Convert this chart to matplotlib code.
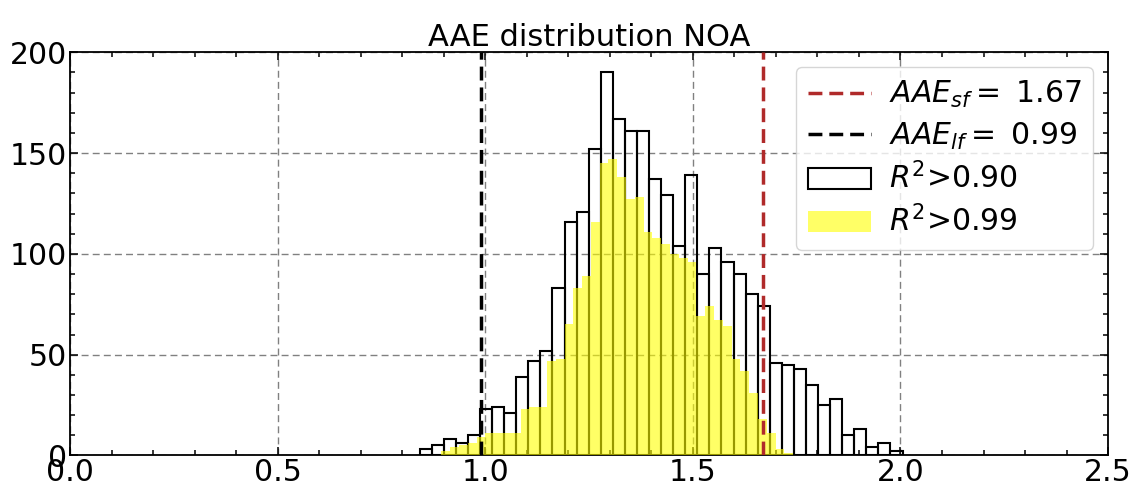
#!/usr/bin/env python3
"""AAE distribution histogram (NOA) - two R^2 cuts with reference AAE lines"""

import numpy as np
import matplotlib

matplotlib.use("Agg")
import matplotlib.pyplot as plt
from matplotlib.ticker import MultipleLocator

# histogram counts
# R^2 > 0.90: 40 bins between the min and max AAE
r90_range = (0.842, 2.005)
r90_counts = [3, 5, 8, 6, 10, 23, 24, 21, 39, 47,
              52, 83, 116, 121, 152, 190, 167, 161, 161, 137,
              129, 104, 139, 90, 103, 96, 90, 80, 74, 46,
              45, 43, 35, 25, 28, 10, 13, 4, 6, 2]

# R^2 > 0.99: 40 bins over its own (narrower) range
r99_range = (0.8946, 1.7414)
r99_counts = [2, 4, 5, 6, 9, 11, 11, 11, 11, 23,
              24, 24, 47, 48, 65, 83, 89, 116, 145, 147,
              138, 127, 128, 111, 108, 105, 100, 98, 96, 69,
              74, 67, 64, 48, 42, 31, 18, 11, 3, 1]

aae_sf = 1.67
aae_lf = 0.99


def draw_hist(ax, rng, counts, **kw):
    edges = np.linspace(rng[0], rng[1], len(counts) + 1)
    return ax.hist(edges[:-1], bins=edges, weights=counts, **kw)


def main():
    plt.rcParams["font.family"] = "DejaVu Sans"
    plt.rcParams["mathtext.fontset"] = "dejavusans"

    fig = plt.figure(figsize=(11.33, 4.88), dpi=100)
    ax = fig.add_axes([0.0618, 0.0666, 0.9162, 0.8264])

    ax.axvline(aae_sf, color="#b02a2a", ls="--", lw=2.5, dashes=(4, 2),
               label=r"$AAE_{sf}=$ %.2f" % aae_sf, zorder=4)
    ax.axvline(aae_lf, color="black", ls="--", lw=2.5, dashes=(4, 2),
               label=r"$AAE_{lf}=$ %.2f" % aae_lf, zorder=4)

    draw_hist(ax, r90_range, r90_counts, histtype="bar", fill=False,
              edgecolor="black", lw=1.5, label=r"$R^2$>0.90", zorder=2)
    draw_hist(ax, r99_range, r99_counts, histtype="stepfilled",
              color="yellow", alpha=0.6, lw=0, label=r"$R^2$>0.99", zorder=3)

    ax.set_xlim(0, 2.5)
    ax.set_ylim(0, 200)
    ax.xaxis.set_major_locator(MultipleLocator(0.5))
    ax.xaxis.set_minor_locator(MultipleLocator(0.1))
    ax.yaxis.set_major_locator(MultipleLocator(50))
    ax.yaxis.set_minor_locator(MultipleLocator(10))
    ax.tick_params(which="both", direction="in", top=True, right=True,
                   labelsize=21.5, width=1.1)
    ax.tick_params(which="major", length=6, pad=2)
    ax.tick_params(which="minor", length=3.5)
    for sp in ax.spines.values():
        sp.set_linewidth(1.3)

    ax.grid(True, which="major", ls="--", color="gray", lw=1.0, dashes=(5, 3))
    ax.set_axisbelow(True)

    ax.set_title("AAE distribution NOA", fontsize=22, pad=3)
    ax.legend(loc="upper right", fontsize=21.5, handlelength=2.1,
              borderaxespad=0.5, handletextpad=0.6, labelspacing=0.35,
              fancybox=True, framealpha=0.8)

    fig.savefig("out.png", dpi=100)


if __name__ == "__main__":
    main()
